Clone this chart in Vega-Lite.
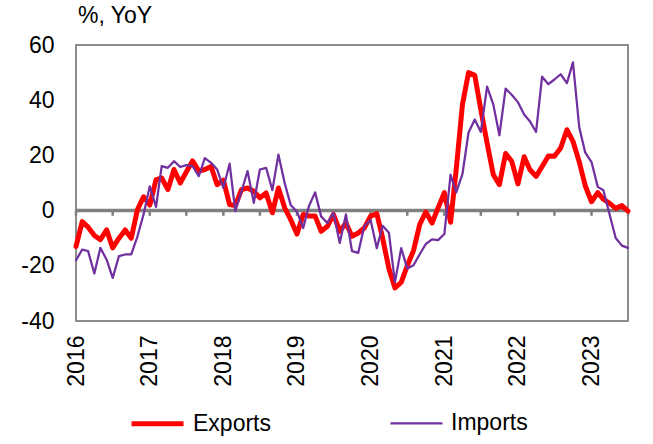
{
  "$schema": "https://vega.github.io/schema/vega-lite/v6.json",
  "width": 552,
  "height": 276,
  "autosize": {"type": "none"},
  "padding": {"left": 76, "top": 45, "right": 25, "bottom": 123},
  "background": "white",
  "config": {
    "font": "Liberation Sans",
    "view": {"stroke": "#8c8c8c", "strokeWidth": 2}
  },
  "title": {"text": "%, YoY", "anchor": "start", "frame": "group", "fontSize": 23, "fontWeight": "normal", "color": "black", "offset": 6, "dx": 2},
  "datasets": {
    "trade": [
      {"date": "2016-01-01", "Exports": -13, "Imports": -18},
      {"date": "2016-02-01", "Exports": -4, "Imports": -14.1},
      {"date": "2016-03-01", "Exports": -6, "Imports": -14.7},
      {"date": "2016-04-01", "Exports": -9, "Imports": -22.8},
      {"date": "2016-05-01", "Exports": -10.5, "Imports": -13.5},
      {"date": "2016-06-01", "Exports": -7, "Imports": -17.8},
      {"date": "2016-07-01", "Exports": -13.5, "Imports": -24.4},
      {"date": "2016-08-01", "Exports": -10, "Imports": -16.5},
      {"date": "2016-09-01", "Exports": -7, "Imports": -15.9},
      {"date": "2016-10-01", "Exports": -10, "Imports": -15.9},
      {"date": "2016-11-01", "Exports": 0.4, "Imports": -9.3},
      {"date": "2016-12-01", "Exports": 5, "Imports": -1.4},
      {"date": "2017-01-01", "Exports": 2, "Imports": 8.8},
      {"date": "2017-02-01", "Exports": 11.2, "Imports": 1.3},
      {"date": "2017-03-01", "Exports": 11.8, "Imports": 16.1},
      {"date": "2017-04-01", "Exports": 7.6, "Imports": 15.5},
      {"date": "2017-05-01", "Exports": 14.9, "Imports": 17.9},
      {"date": "2017-06-01", "Exports": 10, "Imports": 15.8},
      {"date": "2017-07-01", "Exports": 14, "Imports": 16.5},
      {"date": "2017-08-01", "Exports": 18, "Imports": 16.1},
      {"date": "2017-09-01", "Exports": 14.3, "Imports": 12.5},
      {"date": "2017-10-01", "Exports": 14.9, "Imports": 19},
      {"date": "2017-11-01", "Exports": 16, "Imports": 17.3},
      {"date": "2017-12-01", "Exports": 9.4, "Imports": 14.9},
      {"date": "2018-01-01", "Exports": 11, "Imports": 8.2},
      {"date": "2018-02-01", "Exports": 2.2, "Imports": 17},
      {"date": "2018-03-01", "Exports": 1.8, "Imports": -0.2},
      {"date": "2018-04-01", "Exports": 7.6, "Imports": 7},
      {"date": "2018-05-01", "Exports": 8.2, "Imports": 14.3},
      {"date": "2018-06-01", "Exports": 7, "Imports": 2.8},
      {"date": "2018-07-01", "Exports": 4.6, "Imports": 14.9},
      {"date": "2018-08-01", "Exports": 6.4, "Imports": 15.5},
      {"date": "2018-09-01", "Exports": -0.8, "Imports": 7.4},
      {"date": "2018-10-01", "Exports": 8.2, "Imports": 20.3},
      {"date": "2018-11-01", "Exports": 1, "Imports": 10},
      {"date": "2018-12-01", "Exports": -3.3, "Imports": 2},
      {"date": "2019-01-01", "Exports": -8.5, "Imports": -0.4},
      {"date": "2019-02-01", "Exports": -1.4, "Imports": -6.3},
      {"date": "2019-03-01", "Exports": -2, "Imports": 1.6},
      {"date": "2019-04-01", "Exports": -2, "Imports": 6.6},
      {"date": "2019-05-01", "Exports": -7.5, "Imports": -2.1},
      {"date": "2019-06-01", "Exports": -5.7, "Imports": -4.5},
      {"date": "2019-07-01", "Exports": -1.4, "Imports": -0.8},
      {"date": "2019-08-01", "Exports": -7.5, "Imports": -11.7},
      {"date": "2019-09-01", "Exports": -4.5, "Imports": -1.4},
      {"date": "2019-10-01", "Exports": -9.3, "Imports": -14.7},
      {"date": "2019-11-01", "Exports": -8.1, "Imports": -15.3},
      {"date": "2019-12-01", "Exports": -6.3, "Imports": -5.7},
      {"date": "2020-01-01", "Exports": -2, "Imports": -3.3},
      {"date": "2020-02-01", "Exports": -1.1, "Imports": -13.6},
      {"date": "2020-03-01", "Exports": -10, "Imports": -5.5},
      {"date": "2020-04-01", "Exports": -21, "Imports": -8},
      {"date": "2020-05-01", "Exports": -28, "Imports": -26},
      {"date": "2020-06-01", "Exports": -26, "Imports": -13.6},
      {"date": "2020-07-01", "Exports": -20, "Imports": -21},
      {"date": "2020-08-01", "Exports": -14.5, "Imports": -19.8},
      {"date": "2020-09-01", "Exports": -5, "Imports": -15.8},
      {"date": "2020-10-01", "Exports": -0.5, "Imports": -12.1},
      {"date": "2020-11-01", "Exports": -4.5, "Imports": -10.4},
      {"date": "2020-12-01", "Exports": 1, "Imports": -10.7},
      {"date": "2021-01-01", "Exports": 6.5, "Imports": -8.5},
      {"date": "2021-02-01", "Exports": -4.2, "Imports": 13},
      {"date": "2021-03-01", "Exports": 15, "Imports": 6.6},
      {"date": "2021-04-01", "Exports": 38.5, "Imports": 13.3},
      {"date": "2021-05-01", "Exports": 50, "Imports": 28.3},
      {"date": "2021-06-01", "Exports": 49, "Imports": 33},
      {"date": "2021-07-01", "Exports": 36.6, "Imports": 28.5},
      {"date": "2021-08-01", "Exports": 24.5, "Imports": 44.9},
      {"date": "2021-09-01", "Exports": 13, "Imports": 38.4},
      {"date": "2021-10-01", "Exports": 9.4, "Imports": 27.3},
      {"date": "2021-11-01", "Exports": 20.7, "Imports": 44.2},
      {"date": "2021-12-01", "Exports": 17.9, "Imports": 42},
      {"date": "2022-01-01", "Exports": 9.7, "Imports": 39.3},
      {"date": "2022-02-01", "Exports": 19.5, "Imports": 34.8},
      {"date": "2022-03-01", "Exports": 14.9, "Imports": 32.4},
      {"date": "2022-04-01", "Exports": 12.4, "Imports": 28.5},
      {"date": "2022-05-01", "Exports": 16, "Imports": 48.5},
      {"date": "2022-06-01", "Exports": 19.8, "Imports": 45.8},
      {"date": "2022-07-01", "Exports": 19.7, "Imports": 47.5},
      {"date": "2022-08-01", "Exports": 22.7, "Imports": 49.4},
      {"date": "2022-09-01", "Exports": 29.3, "Imports": 46.2},
      {"date": "2022-10-01", "Exports": 25.1, "Imports": 53.7},
      {"date": "2022-11-01", "Exports": 17.7, "Imports": 30.2},
      {"date": "2022-12-01", "Exports": 9, "Imports": 21},
      {"date": "2023-01-01", "Exports": 3.2, "Imports": 17.6},
      {"date": "2023-02-01", "Exports": 6.5, "Imports": 8.6},
      {"date": "2023-03-01", "Exports": 4.1, "Imports": 7.4},
      {"date": "2023-04-01", "Exports": 2.6, "Imports": -1.5},
      {"date": "2023-05-01", "Exports": 0.8, "Imports": -9.9},
      {"date": "2023-06-01", "Exports": 1.8, "Imports": -12.7},
      {"date": "2023-07-01", "Exports": -0.2, "Imports": -13.5}
    ],
    "ticks": [
      {"date": "2016-01-01"}, {"date": "2016-07-01"},
      {"date": "2017-01-01"}, {"date": "2017-07-01"},
      {"date": "2018-01-01"}, {"date": "2018-07-01"},
      {"date": "2019-01-01"}, {"date": "2019-07-01"},
      {"date": "2020-01-01"}, {"date": "2020-07-01"},
      {"date": "2021-01-01"}, {"date": "2021-07-01"},
      {"date": "2022-01-01"}, {"date": "2022-07-01"},
      {"date": "2023-01-01"}, {"date": "2023-07-01"}
    ]
  },
  "layer": [
    {
      "data": {"name": "ticks"},
      "mark": {"type": "rule", "color": "#808080", "strokeWidth": 2.5},
      "encoding": {
        "x": {"field": "date", "type": "temporal", "scale": {"domain": [{"year": 2016, "month": 1, "date": 1}, {"year": 2023, "month": 7, "date": 1}]},
          "axis": {"tickCount": {"interval": "year", "step": 1}, "format": "%Y", "labelAngle": -90, "labelPadding": 14, "ticks": false, "domain": false, "grid": false, "labelFontSize": 23, "labelColor": "black", "title": null, "labelFlush": false, "labelOverlap": false}},
        "y": {"datum": 0, "type": "quantitative"},
        "y2": {"datum": -1.9}
      }
    },
    {
      "data": {"values": [{}]},
      "mark": {"type": "rule", "color": "#808080", "strokeWidth": 3.5},
      "encoding": {"y": {"datum": 0, "type": "quantitative"}}
    },
    {
      "data": {"name": "trade"},
      "transform": [{"fold": ["Exports", "Imports"], "as": ["series", "value"]}],
      "mark": {"type": "line", "strokeJoin": "round", "strokeCap": "round"},
      "encoding": {
        "x": {"field": "date", "type": "temporal", "scale": {"domain": [{"year": 2016, "month": 1, "date": 1}, {"year": 2023, "month": 7, "date": 1}]},
          "axis": {"tickCount": {"interval": "year", "step": 1}, "format": "%Y", "labelAngle": -90, "labelPadding": 14, "ticks": false, "domain": false, "grid": false, "labelFontSize": 23, "labelColor": "black", "title": null, "labelFlush": false, "labelOverlap": false}},
        "y": {"field": "value", "type": "quantitative", "scale": {"domain": [-40, 60], "nice": false, "zero": false},
          "axis": {"values": [-40, -30, -20, -10, 0, 10, 20, 30, 40, 50, 60], "labelExpr": "datum.value % 20 === 0 ? '' + datum.value : ''", "gridColor": {"condition": {"test": "datum.value % 20 === 0", "value": "#c4c4c4"}, "value": "#e8e8e8"}, "gridWidth": 1.5, "ticks": false, "domain": false, "labelPadding": 22, "labelFontSize": 23, "labelColor": "black", "title": null}},
        "color": {"field": "series", "type": "nominal", "scale": {"domain": ["Exports", "Imports"], "range": ["#ff0000", "#7030a0"]},
          "legend": {"title": null, "orient": "none", "direction": "horizontal", "legendX": 53, "legendY": 350, "symbolType": "stroke", "symbolSize": 2704, "labelFontSize": 23, "labelColor": "black", "labelOffset": 7, "columnPadding": 115}},
        "strokeWidth": {"field": "series", "type": "nominal", "scale": {"domain": ["Exports", "Imports"], "range": [5, 2.25]}}
      }
    }
  ]
}
